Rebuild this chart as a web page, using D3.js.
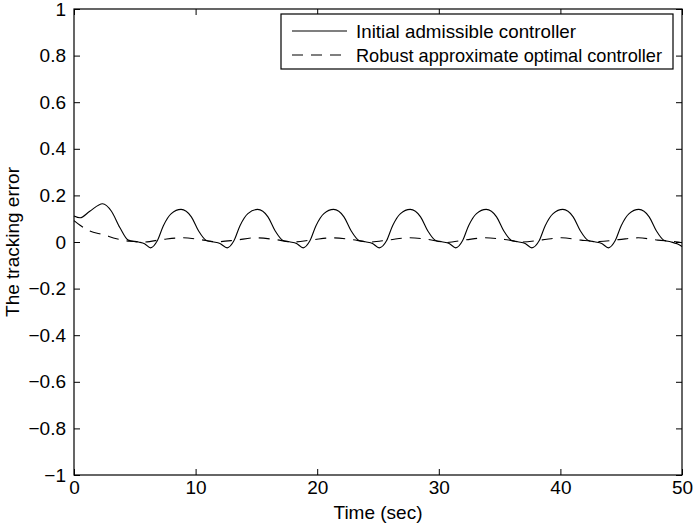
<!DOCTYPE html>
<html>
<head>
<meta charset="utf-8">
<script src="https://cdn.jsdelivr.net/npm/d3@7"></script>
<style>
  body { margin: 0; background: #fff; }
  text { font-family: "Liberation Sans", Arial, Helvetica, sans-serif; }
</style>
</head>
<body>
<div id="chart"></div>
<script>
// tick values and labels
var xTicks = [0, 10, 20, 30, 40, 50];
var xTickLabels = ["0", "10", "20", "30", "40", "50"];
var yTicks = [-1, -0.8, -0.6, -0.4, -0.2, 0, 0.2, 0.4, 0.6, 0.8, 1];
var yTickLabels = ["\u22121", "\u22120.8", "\u22120.6", "\u22120.4", "\u22120.2", "0", "0.2", "0.4", "0.6", "0.8", "1"];

var seriesNames = ["Initial admissible controller", "Robust approximate optimal controller"];

// initial admissible controller (solid)
var initTime = [0, 0.5, 1.3, 2.35, 3.08, 3.78, 4.46, 5.3, 5.8, 6.3,
  6.85, 7.35, 8.0, 8.8, 9.65, 10.25, 10.85, 11.4, 12.0, 12.6,
  13.15, 13.65, 14.3, 15.1, 15.95, 16.55, 17.15, 17.7, 18.3, 18.85,
  19.4, 19.9, 20.55, 21.35, 22.2, 22.8, 23.4, 23.95, 24.55, 25.1,
  25.7, 26.2, 26.85, 27.65, 28.5, 29.1, 29.7, 30.25, 30.85, 31.4,
  31.95, 32.45, 33.1, 33.9, 34.75, 35.35, 35.95, 36.5, 37.1, 37.65,
  38.25, 38.75, 39.4, 40.2, 41.05, 41.65, 42.25, 42.8, 43.4, 43.95,
  44.5, 45.0, 45.65, 46.45, 47.3, 47.9, 48.5, 49.05, 49.6, 50.0];
var initError = [0.112, 0.104, 0.132, 0.164, 0.132, 0.061, 0.008, 0.0, -0.007, -0.025,
  0.005, 0.07, 0.122, 0.14, 0.108, 0.047, 0.008, 0.001, -0.006, -0.025,
  0.005, 0.07, 0.122, 0.14, 0.108, 0.047, 0.008, 0.001, -0.006, -0.025,
  0.005, 0.07, 0.122, 0.14, 0.108, 0.047, 0.008, 0.001, -0.006, -0.025,
  0.005, 0.07, 0.122, 0.14, 0.108, 0.047, 0.008, 0.001, -0.006, -0.025,
  0.005, 0.07, 0.122, 0.14, 0.108, 0.047, 0.008, 0.001, -0.006, -0.025,
  0.005, 0.07, 0.122, 0.14, 0.108, 0.047, 0.008, 0.001, -0.006, -0.025,
  0.005, 0.07, 0.122, 0.14, 0.108, 0.047, 0.008, 0.001, -0.008, -0.019];

// robust approximate optimal controller (dashed)
var robustTime = [0, 0.5, 1.3, 2.4, 3.5, 4.6, 5.7, 7.3, 8.9, 10.3,
  11.7, 13.3, 14.9, 16.5, 18.0, 19.6, 21.2, 22.8, 24.3, 25.9,
  27.5, 29.1, 30.6, 32.2, 33.8, 35.4, 36.9, 38.5, 40.1, 41.7,
  43.2, 44.8, 46.4, 48.0, 49.5, 50.0];
var robustError = [0.092, 0.072, 0.047, 0.032, 0.014, 0.003, 0.0, 0.011, 0.018, 0.011,
  0.001, 0.008, 0.018, 0.011, 0.0, 0.009, 0.018, 0.011, 0.0, 0.009,
  0.018, 0.011, -0.002, 0.009, 0.018, 0.011, 0.0, 0.009, 0.018, 0.008,
  0.002, 0.01, 0.018, 0.008, 0.001, -0.003];

// set the dimensions and margins of the graph
var margin = {top: 9, right: 11, bottom: 53, left: 74},
    width = 693 - margin.left - margin.right,
    height = 528 - margin.top - margin.bottom;

var svg = d3.select("#chart")
  .append("svg")
    .attr("width", 693)
    .attr("height", 528)
  .append("g")
    .attr("transform", "translate(" + margin.left + "," + margin.top + ")");

var x = d3.scaleLinear().domain([0, 50]).range([0, width]);
var y = d3.scaleLinear().domain([-1, 1]).range([height, 0]);

// axes, ticks pointing inward like matlab
var tick = 6;
var fontSize = "19px";

var axBottom = svg.append("g")
  .attr("transform", "translate(0," + height + ")")
  .call(d3.axisBottom(x).tickValues(xTicks).tickSize(-tick).tickPadding(6)
    .tickFormat(function(d, i) { return xTickLabels[i]; }));
var axLeft = svg.append("g")
  .call(d3.axisLeft(y).tickValues(yTicks).tickSize(-tick).tickPadding(8)
    .tickFormat(function(d, i) { return yTickLabels[i]; }));
var axTop = svg.append("g")
  .call(d3.axisTop(x).tickValues(xTicks).tickSize(-tick).tickFormat(""));
var axRight = svg.append("g")
  .attr("transform", "translate(" + width + ",0)")
  .call(d3.axisRight(y).tickValues(yTicks).tickSize(-tick).tickFormat(""));

[axBottom, axLeft, axTop, axRight].forEach(function(a) {
  a.select(".domain").remove();
  a.selectAll("line").attr("stroke", "#000").attr("stroke-width", 1);
  a.selectAll("text").attr("fill", "#000").style("font-size", fontSize)
    .style("font-family", "'Liberation Sans', Arial, sans-serif");
});

// box
svg.append("rect")
  .attr("x", 0).attr("y", 0)
  .attr("width", width).attr("height", height)
  .attr("fill", "none").attr("stroke", "#000").attr("stroke-width", 1.2);

// lines
var line = d3.line()
  .x(function(d) { return x(d[0]); })
  .y(function(d) { return y(d[1]); })
  .curve(d3.curveMonotoneX);

var initData = initTime.map(function(t, i) { return [t, initError[i]]; });
var robustData = robustTime.map(function(t, i) { return [t, robustError[i]]; });

svg.append("path")
  .datum(initData)
  .attr("d", line)
  .attr("fill", "none").attr("stroke", "#000").attr("stroke-width", 1.1);

svg.append("path")
  .datum(robustData)
  .attr("d", line)
  .attr("fill", "none").attr("stroke", "#000").attr("stroke-width", 1.1)
  .attr("stroke-dasharray", "11,8");

// axis titles
svg.append("text")
  .attr("x", width / 2)
  .attr("y", height + 44)
  .attr("text-anchor", "middle")
  .style("font-size", fontSize)
  .text("Time (sec)");

svg.append("text")
  .attr("transform", "translate(" + (-55) + "," + (height / 2) + ") rotate(-90)")
  .attr("text-anchor", "middle")
  .style("font-size", fontSize)
  .text("The tracking error");

// legend
var legend = svg.append("g")
  .attr("transform", "translate(" + (281 - margin.left) + "," + (14 - margin.top) + ")");

legend.append("rect")
  .attr("width", 392).attr("height", 55)
  .attr("fill", "#fff").attr("stroke", "#000").attr("stroke-width", 1.2);

var dashes = [null, "11,8"];
var legendTextWidth = [220, 306];
seriesNames.forEach(function(name, i) {
  var ly = 17 + i * 24;
  legend.append("line")
    .attr("x1", 11).attr("x2", 66)
    .attr("y1", ly).attr("y2", ly)
    .attr("stroke", "#000").attr("stroke-width", 1.1)
    .attr("stroke-dasharray", dashes[i]);
  legend.append("text")
    .attr("x", 75).attr("y", ly)
    .attr("dy", "0.35em")
    .attr("textLength", legendTextWidth[i])
    .attr("lengthAdjust", "spacingAndGlyphs")
    .style("font-size", fontSize)
    .text(name);
});
</script>
</body>
</html>
